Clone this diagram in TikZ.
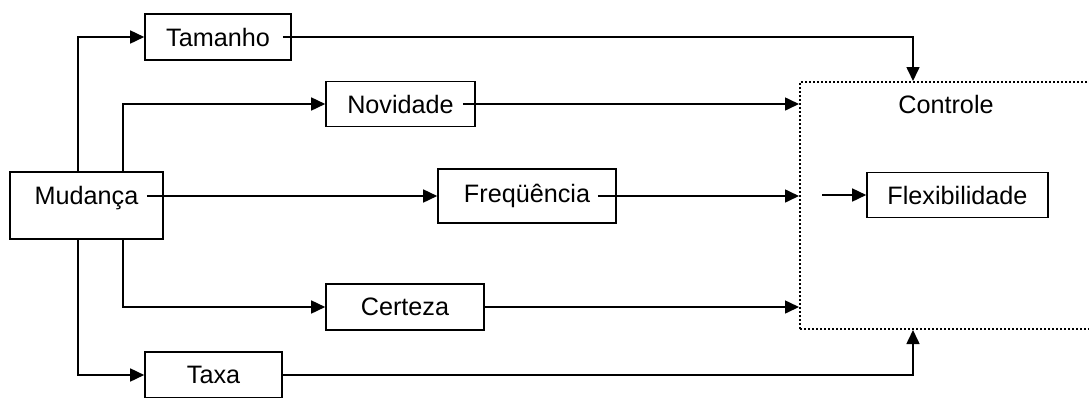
\documentclass[tikz,border=0pt]{standalone}
\usepackage{fontspec}
\setmainfont{Liberation Sans}
\usetikzlibrary{arrows, arrows.meta}
\usetikzlibrary{positioning}
\usetikzlibrary{calc}

\tikzset{
	box/.style={draw, line width=0.8pt, rectangle, inner sep=0pt, font=\fontsize{12.6}{14}\selectfont},
	arr/.style={line width=0.8pt, -{Triangle[length=7pt, width=6.5pt]}},
	zone/.style={draw, densely dotted, line width=1pt, rectangle, inner sep=0pt}
}

\begin{document}
\begin{tikzpicture}[x=0.5pt, y=-0.5pt]
					% frame of the picture
					\clip (0,0) rectangle (1089,397);
					% trunks and drop point
					\coordinate (t1) at (78,0);
					\coordinate (t2) at (123,0);
					\coordinate (drop) at (913,0);
					% draw boxes
					\node[box, anchor=base, text height=16pt, text depth=17.5pt, minimum width=76.5pt] (mud) at (86.5,204) {Mudan\c{c}a};
					\node[box, minimum width=73pt, minimum height=23pt] (tam) at (218,37) {Tamanho};
					\node[box, minimum width=74.5pt, minimum height=22.5pt] (nov) at (400.5,104) {Novidade};
					\node[box, minimum width=89pt, minimum height=27pt] (fre) at (527,196) {Freq\"u\^encia};
					\node[box, minimum width=79pt, minimum height=23pt] (cer) at (405,307) {Certeza};
					\node[box, minimum width=68.5pt, minimum height=23pt] (tax) at (213.5,375) {Taxa};
					% control zone
					\node[zone, minimum width=150pt, minimum height=123.5pt] (ctl) at (950,205.5) {};
					\node[font=\fontsize{12.6}{14}\selectfont] (ctllbl) at ($(ctl.north west)+(147,23)$) {Controle};
					\node[box, minimum width=90.5pt, minimum height=22.5pt] (flx) at (957.5,195) {Flexibilidade};
					% add arrows from Mudança
					\draw[arr] (mud.north -| t1) |- (tam.west);
					\draw[arr] (mud.north -| t2) |- (nov.west);
					\draw[arr] ([xshift=-8.5pt]mud.east |- fre.west) -- (fre.west);
					\draw[arr] (mud.south -| t2) |- (cer.west);
					\draw[arr] (mud.south -| t1) |- (tax.west);
					% add arrows into Controle
					\draw[arr] ([xshift=-4.5pt]tam.east) -| (ctl.north -| drop);
					\draw[arr] ([xshift=-6.5pt]nov.east) -- (ctl.west |- nov.east);
					\draw[arr] ([xshift=-9.5pt]fre.east) -- (ctl.west |- fre.east);
					\draw[arr] (cer.east) -- (ctl.west |- cer.east);
					\draw[arr] (tax.east) -| (ctl.south -| drop);
					\draw[arr] ($(ctl.west |- flx.west)+(23,0)$) -- (flx.west);
				\end{tikzpicture}
\end{document}
